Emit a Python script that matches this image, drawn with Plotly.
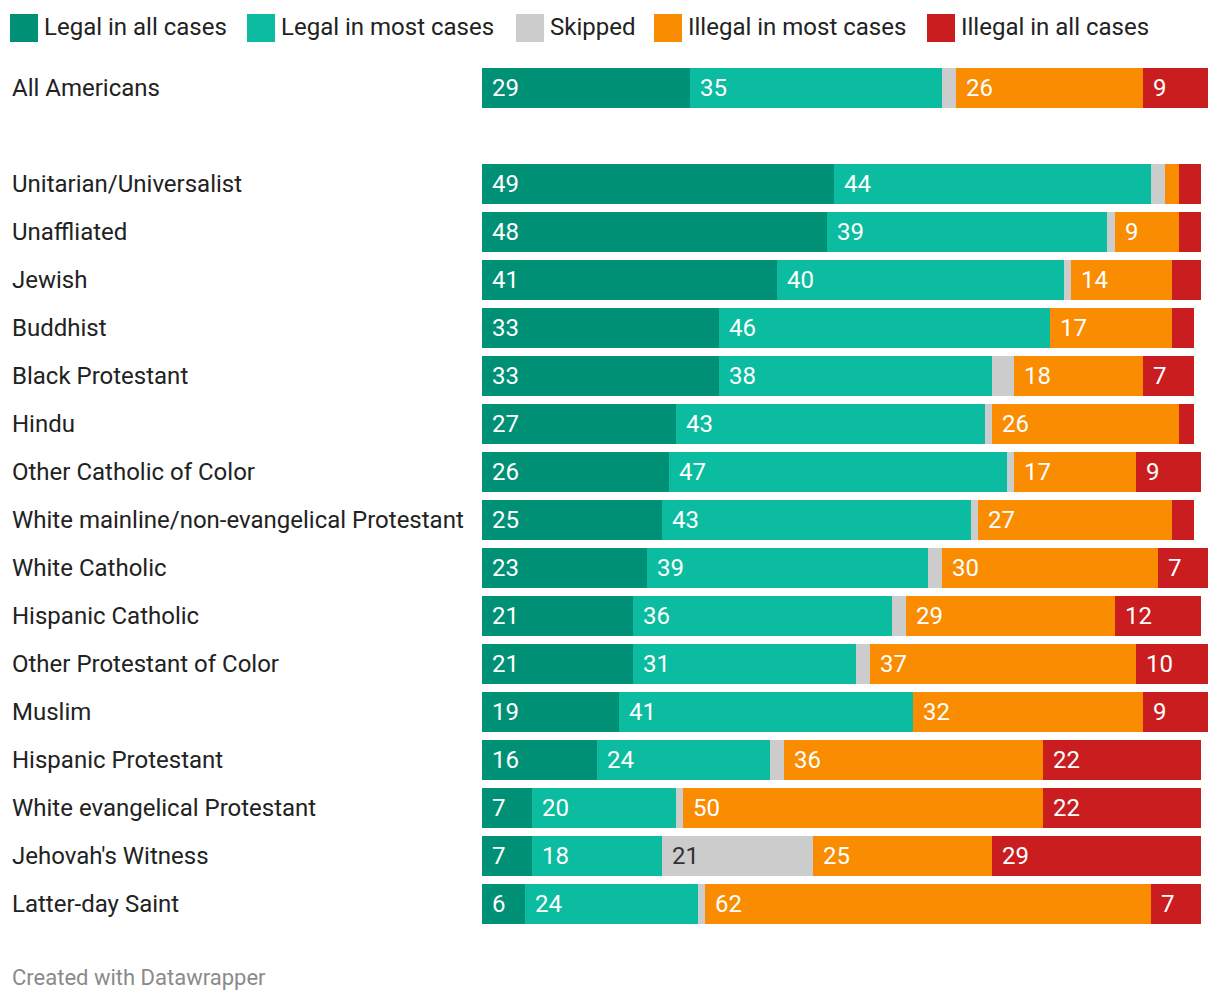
import plotly.graph_objects as go

categories = ["All Americans", "Unitarian/Universalist", "Unaffliated", "Jewish", "Buddhist",
              "Black Protestant", "Hindu", "Other Catholic of Color",
              "White mainline/non-evangelical Protestant", "White Catholic", "Hispanic Catholic",
              "Other Protestant of Color", "Muslim", "Hispanic Protestant",
              "White evangelical Protestant", "Jehovah's Witness", "Latter-day Saint"]
legal_all = [29, 49, 48, 41, 33, 33, 27, 26, 25, 23, 21, 21, 19, 16, 7, 7, 6]
legal_most = [35, 44, 39, 40, 46, 38, 43, 47, 43, 39, 36, 31, 41, 24, 20, 18, 24]
skipped = [2, 2, 1, 1, 0, 3, 1, 1, 1, 2, 2, 2, 0, 2, 1, 21, 1]
illegal_most = [26, 2, 9, 14, 17, 18, 26, 17, 27, 30, 29, 37, 32, 36, 50, 25, 62]
illegal_all = [9, 3, 3, 4, 3, 7, 2, 9, 3, 7, 12, 10, 9, 22, 22, 29, 7]
series_names = ["Legal in all cases", "Legal in most cases", "Skipped",
                "Illegal in most cases", "Illegal in all cases"]

series = [legal_all, legal_most, skipped, illegal_most, illegal_all]
colors = ["#009076", "#0bbca0", "#cccccc", "#f98c00", "#c91d1f"]
label_colors = ["#ffffff", "#ffffff", "#333333", "#ffffff", "#ffffff"]

W, H = 1220, 1002
ML, MR, MT, MB = 0, 12, 64, 74
plot_w = W - ML - MR
plot_h = H - MT - MB
bar_left_px = 482

# first row, then a spacer row, then the rest
ypos = [0] + [i + 1 for i in range(1, len(categories))]
nrows = ypos[-1] + 1

def px_x(px):
    return (px - ML) / plot_w

def px_y(py):
    return (H - MB - py) / plot_h

fig = go.Figure()
for name, vals, col in zip(series_names, series, colors):
    fig.add_trace(go.Bar(
        y=ypos, x=vals, name=name, orientation="h",
        marker=dict(color=col, line=dict(width=0)),
        width=40 / 48, showlegend=False, hoverinfo="x+name",
    ))

annotations = []
# bar value labels
for r, yp in enumerate(ypos):
    base = 0
    for s, vals in enumerate(series):
        v = vals[r]
        if v >= 5:
            annotations.append(dict(
                x=base, y=yp, xref="x", yref="y", text=str(v), showarrow=False,
                xanchor="left", yanchor="middle", xshift=8, yshift=0,
                font=dict(family="Roboto", size=24, color=label_colors[s]),
            ))
        base += v

# category labels
for cat, yp in zip(categories, ypos):
    annotations.append(dict(
        x=px_x(10), y=yp, xref="paper", yref="y", text=cat, showarrow=False,
        xanchor="left", yanchor="middle",
        font=dict(family="Roboto", size=24, color="#222222"),
    ))

# legend (custom swatches)
legend_swatch_x = [10, 247, 516, 654, 927]
shapes = []
for name, col, sx in zip(series_names, colors, legend_swatch_x):
    shapes.append(dict(type="rect", xref="paper", yref="paper",
                       x0=px_x(sx), x1=px_x(sx + 28), y0=px_y(42), y1=px_y(14),
                       fillcolor=col, line=dict(width=0)))
    annotations.append(dict(
        x=px_x(sx + 32), y=px_y(27), xref="paper", yref="paper", text=name,
        showarrow=False, xanchor="left", yanchor="middle",
        font=dict(family="Roboto", size=24, color="#222222"),
    ))

# footer
annotations.append(dict(
    x=px_x(10), y=px_y(977), xref="paper", yref="paper", text="Created with Datawrapper",
    showarrow=False, xanchor="left", yanchor="middle",
    font=dict(family="Roboto", size=22, color="#8a8a8a"),
))

fig.update_layout(
    width=W, height=H,
    margin=dict(l=ML, r=MR, t=MT, b=MB),
    barmode="stack",
    plot_bgcolor="white", paper_bgcolor="white",
    xaxis=dict(domain=[px_x(bar_left_px), 1], range=[0, 101], visible=False, fixedrange=True),
    yaxis=dict(range=[nrows - 0.5, -0.5], visible=False, fixedrange=True),
    annotations=annotations,
    shapes=shapes,
    font=dict(family="Roboto"),
)

fig.write_html("out.html", post_script="document.body.style.margin='0';",
               config={"displayModeBar": False})
